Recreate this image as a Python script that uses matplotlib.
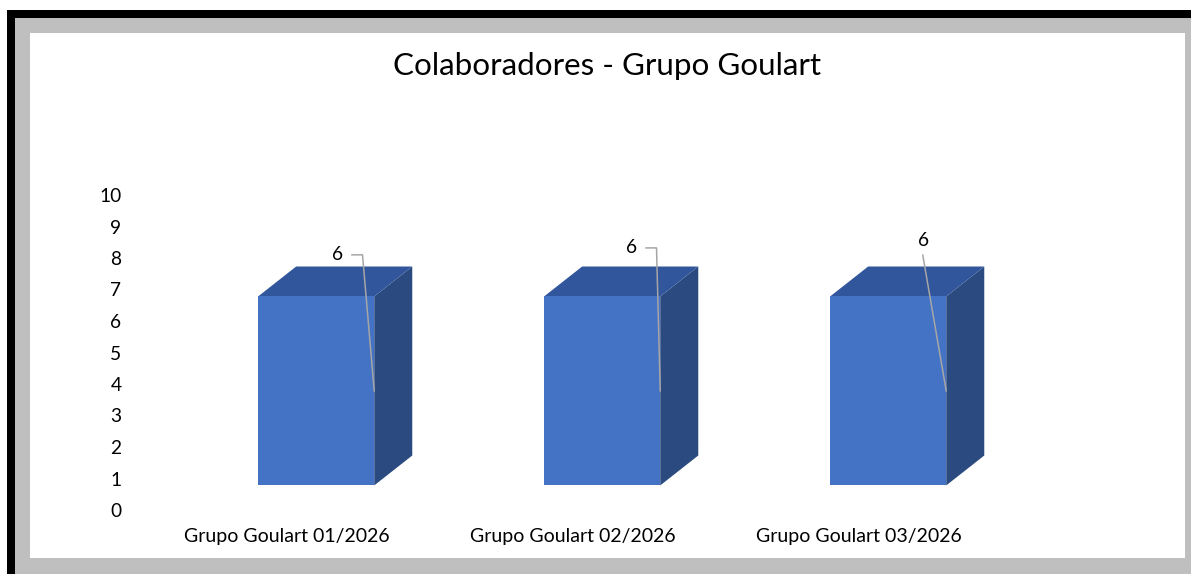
#!/usr/bin/env python
# Colaboradores - Grupo Goulart: pseudo-3D column chart (Excel look).
import matplotlib; matplotlib.use("Agg")
import matplotlib.pyplot as plt
from matplotlib.patches import Polygon, Rectangle

categories = ["Grupo Goulart 01/2026", "Grupo Goulart 02/2026", "Grupo Goulart 03/2026"]
values = [6, 6, 6]
yticks = list(range(0, 11))
title = "Colaboradores - Grupo Goulart"

# style: bar geometry relative to the category position (data units)
X0, W = -0.101, 0.406      # front face left offset and width
DX, DY = 0.133, 0.95       # depth offset of the box
BASE = 0.78                # floor lift of the front face
FRONT, TOP, SIDE = "#4472C4", "#31569B", "#2A4A80"
# label offsets (dx, y) and whether the leader has a small elbow
lab_pos = [(0.178, 8.10, True), (0.206, 8.32, True), (0.227, 8.57, False)]

W_PX, H_PX = 1191, 574
plt.rcParams["font.family"] = ["Lato", "DejaVu Sans"]
fig = plt.figure(figsize=(W_PX / 100, H_PX / 100), dpi=100)

def px(x0, y0, x1, y1, color):
    fig.patches.append(Rectangle((x0 / W_PX, 1 - y1 / H_PX), (x1 - x0) / W_PX, (y1 - y0) / H_PX,
                                 transform=fig.transFigure, color=color, zorder=-5, lw=0))

px(7, 10, 1191, 574, "black")
px(15, 18, 1191, 574, "#BFBFBF")
px(30, 33, 1185, 558, "white")

fig.text(607 / W_PX, 1 - 66 / H_PX, title, ha="center", va="center", fontsize=22.6)

ax = fig.add_axes([127 / W_PX, 1 - 510 / H_PX, (1040 - 127) / W_PX, 315 / H_PX])
ax.set_xlim((127 - 287) / 286, (1040 - 287) / 286)
ax.set_ylim(0, 10)
ax.patch.set_alpha(0)
for s in ax.spines.values():
    s.set_visible(False)

for i, v in enumerate(values):
    xl, xr, yb, yt = i + X0, i + X0 + W, BASE, BASE + v
    ax.add_patch(Polygon([(xr, yb), (xr + DX, yb + DY), (xr + DX, yt + DY), (xr, yt)], color=SIDE, lw=0))
    ax.add_patch(Polygon([(xl, yt), (xr, yt), (xr + DX, yt + DY), (xl + DX, yt + DY)], color=TOP, lw=0))
    ax.add_patch(Rectangle((xl, yb), W, v, color=FRONT, lw=0))
    dx, ly, elbow = lab_pos[i]
    lx = i + dx
    ax.text(lx, ly, f"{v}", ha="center", va="center", fontsize=13.8)
    end = (xr, yb + v / 2)
    if elbow:
        pts = [(lx + 0.049, ly), (lx + 0.086, ly), end]
    else:
        pts = [(lx - 0.004, ly - 0.48), end]
    ax.plot([p[0] for p in pts], [p[1] for p in pts], color="#A6A6A6", lw=1.1)

ax.set_yticks(yticks)
ax.set_xticks(range(len(categories)))
ax.set_xticklabels(categories, fontsize=14)
ax.tick_params(axis="both", length=0)
ax.tick_params(axis="y", pad=4, labelsize=13.8)
ax.tick_params(axis="x", pad=13)

fig.savefig("out.png", dpi=100)
